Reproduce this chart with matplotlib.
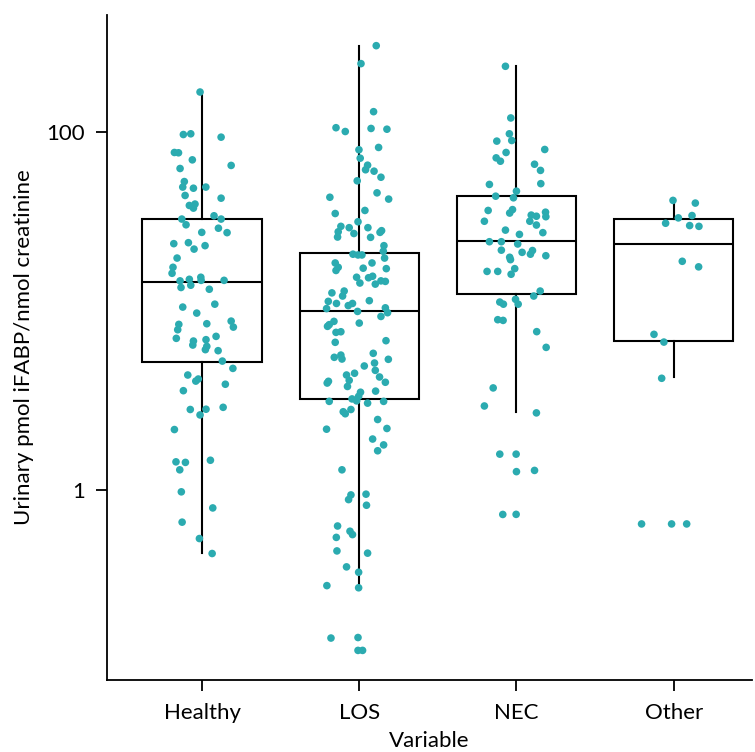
import numpy as np
import matplotlib
matplotlib.use("Agg")
import matplotlib.pyplot as plt

plt.rcParams['font.family'] = ['Lato', 'DejaVu Sans']

categorias = ["Healthy", "LOS", "NEC", "Other"]

# valores (pmol iFABP / nmol creatinina) y desplazamiento horizontal del jitter
healthy_val = [166, 96.2, 97.1, 93.0, 76.4, 76.1, 69.5, 64.7, 62.2, 52.6, 49.0, 48.3, 49.0,
               44.0, 42.5, 38.7, 39.4, 37.4, 32.5, 33.9, 32.5, 30.2, 28.9, 27.4, 27.3, 23.7,
               24.0, 23.1, 22.1, 19.7, 17.5, 16.2, 14.7, 15.0, 15.4, 14.8, 14.8, 13.5, 13.9,
               13.2, 10.5, 10.9, 9.72, 8.48, 8.77, 8.12, 8.41, 7.85, 7.03, 6.79, 6.45, 6.91,
               7.21, 6.34, 6.08, 6.00, 5.25, 4.78, 4.39, 4.06, 4.17, 3.90, 3.59, 2.82, 2.83,
               2.63, 2.90, 2.18, 1.44, 1.43, 1.30, 1.47, 0.98, 0.797, 0.664, 0.538, 0.444]
healthy_jit = [-0.013, -0.119, -0.072, 0.121, -0.176, -0.150, -0.062, 0.185, -0.140, -0.113,
               -0.123, -0.055, 0.024, -0.108, 0.121, -0.081, -0.045, -0.055, -0.129, 0.076,
               0.121, -0.102, 0.104, -0.002, 0.159, -0.180, -0.087, 0.019, -0.051, -0.159,
               -0.185, -0.191, -0.140, -0.081, -0.008, -0.006, 0.140, -0.134, -0.072, 0.046,
               -0.123, 0.081, -0.034, 0.030, 0.185, 0.199, -0.148, -0.155, -0.164, -0.055,
               -0.059, 0.025, 0.089, 0.030, 0.021, 0.102, 0.129, 0.196, -0.091, -0.040,
               -0.024, 0.148, -0.119, -0.075, 0.025, -0.013, 0.134, -0.176, -0.166, -0.106,
               -0.142, 0.053, -0.132, 0.068, -0.127, -0.017, 0.064]

los_val = [301, 239, 129, 105, 100, 104, 103, 79.1, 81.5, 71.0, 64.9, 61.2, 60.1, 55.6, 53.1,
           43.0, 45.5, 42.0, 34.9, 36.3, 31.4, 29.6, 29.1, 27.6, 25.8, 27.0, 29.1, 28.0, 27.4,
           25.7, 23.1, 21.5, 20.7, 20.5, 20.5, 19.7, 18.5, 17.5, 16.8, 18.5, 17.3, 17.2, 15.4,
           14.3, 15.3, 15.6, 14.1, 14.7, 14.6, 12.9, 12.6, 12.1, 11.3, 11.0, 11.0, 10.7, 11.4,
           10.3, 10.4, 9.93, 9.77, 9.31, 8.74, 8.38, 8.20, 8.55, 7.59, 7.65, 6.68, 6.82, 5.51,
           5.67, 5.39, 5.80, 5.37, 5.12, 4.93, 4.66, 4.39, 4.49, 4.28, 4.10, 4.00, 4.05, 3.96,
           3.79, 3.52, 3.57, 3.34, 3.23, 3.15, 3.13, 3.06, 3.13, 2.74, 2.82, 2.67, 2.48, 2.19,
           2.21, 1.93, 1.79, 1.66, 1.30, 0.942, 0.887, 0.951, 0.825, 0.632, 0.591, 0.566,
           0.546, 0.459, 0.446, 0.374, 0.349, 0.294, 0.286, 0.150, 0.151, 0.128, 0.128]
los_jit = [0.108, 0.011, 0.091, -0.148, -0.089, 0.075, 0.176, -0.002, 0.123, 0.006, 0.053,
           0.040, 0.094, 0.138, -0.013, -0.187, 0.113, 0.187, -0.153, 0.036, -0.008, -0.117,
           -0.064, -0.134, -0.138, -0.034, 0.055, 0.142, 0.132, 0.072, 0.157, 0.153, -0.040,
           -0.008, 0.017, 0.161, -0.153, -0.134, -0.148, 0.081, 0.025, 0.172, -0.017, 0.004,
           0.059, 0.085, 0.102, 0.138, 0.166, -0.096, -0.174, -0.106, -0.197, -0.145, -0.043,
           -0.070, 0.064, -0.208, 0.166, -0.011, 0.180, 0.138, -0.161, -0.191, -0.202, 0.0,
           -0.148, -0.117, -0.153, 0.170, -0.159, -0.117, -0.110, 0.089, 0.185, 0.097, 0.032,
           0.102, -0.081, -0.030, 0.129, -0.064, 0.166, -0.196, -0.204, -0.075, 0.008, 0.104,
           -0.004, -0.046, -0.017, -0.191, 0.053, 0.155, -0.102, -0.053, -0.089, 0.117, -0.208,
           0.176, 0.085, 0.155, 0.117, -0.110, -0.053, -0.068, 0.043, 0.046, -0.138, -0.059,
           -0.043, -0.146, -0.142, 0.053, -0.081, -0.004, -0.206, -0.004, -0.180, -0.008,
           -0.008, 0.021]

nec_val = [231, 119, 97.1, 89.1, 88.4, 76.4, 79.4, 71.3, 68.3, 65.7, 60.7, 51.2, 50.7, 46.5,
           42.7, 43.6, 36.3, 36.7, 35.1, 35.5, 33.5, 34.2, 33.7, 31.6, 31.6, 30.1, 28.2, 26.7,
           27.3, 24.3, 24.3, 23.6, 21.8, 21.2, 21.7, 20.7, 20.3, 19.9, 19.3, 17.2, 16.6, 16.6,
           16.0, 12.9, 12.1, 11.6, 10.9, 11.2, 10.9, 8.93, 8.85, 7.66, 6.26, 3.72, 2.95, 2.70,
           1.59, 1.59, 1.27, 1.29, 0.733, 0.734]
nec_jit = [-0.070, -0.036, -0.045, -0.030, -0.125, -0.066, 0.180, -0.129, -0.102, 0.115, 0.153,
           0.155, -0.172, 0.0, -0.019, -0.132, -0.180, -0.025, -0.043, 0.185, 0.187, 0.094,
           0.127, -0.204, 0.085, 0.127, -0.070, 0.019, 0.168, -0.172, -0.096, 0.008, -0.096,
           0.036, 0.102, 0.089, 0.187, -0.043, -0.038, -0.011, -0.187, -0.119, -0.034, 0.151,
           0.110, -0.006, 0.011, -0.106, -0.083, -0.119, -0.085, 0.129, 0.189, -0.148, -0.204,
           0.127, -0.106, -0.002, 0.0, 0.115, -0.087, -0.002]

other_val = [41.3, 39.9, 33.0, 34.0, 30.8, 29.9, 29.6, 18.9, 17.6, 7.40, 6.70, 4.21,
             0.649, 0.649, 0.649]
other_jit = [-0.004, 0.138, 0.030, 0.117, -0.051, 0.102, 0.161, 0.055, 0.159, -0.125, -0.062,
             -0.076, -0.204, -0.013, 0.083]

# estadisticos de las cajas
q1 = [5.17, 3.21, 12.5, 6.79]
mediana = [14.4, 10.0, 24.5, 23.5]
q3 = [32.4, 21.0, 43.5, 32.4]
bigote_inf = [0.448, 0.288, 2.73, 4.28]
bigote_sup = [165, 301, 233, 40.4]

valores = [healthy_val, los_val, nec_val, other_val]
jitters = [healthy_jit, los_jit, nec_jit, other_jit]

fig = plt.figure(figsize=(7.55, 7.52), dpi=100)
ax = fig.add_axes([0.1417, 0.0957, 0.854, 0.885])

stats = []
for i in range(4):
    stats.append({"q1": q1[i], "med": mediana[i], "q3": q3[i],
                  "whislo": bigote_inf[i], "whishi": bigote_sup[i], "fliers": []})

ax.bxp(stats, positions=range(4), widths=0.76, showcaps=False, patch_artist=True,
       boxprops=dict(facecolor="white", edgecolor="black", linewidth=1.5),
       medianprops=dict(color="black", linewidth=1.5),
       whiskerprops=dict(color="black", linewidth=1.5), zorder=1)

color_punto = "#2BABB0"
for i in range(4):
    x = i + np.array(jitters[i])
    ax.scatter(x, valores[i], s=30, color=color_punto, edgecolors="none", zorder=3)

ax.set_yscale("log")
ax.set_ylim(0.0875, 449)
ax.set_xlim(-0.605, 3.497)
ax.set_yticks([1, 100])
ax.set_yticklabels(["1", "100"])
ax.minorticks_off()
ax.set_xticks(range(4))
ax.set_xticklabels(categorias)

for lado in ["top", "right"]:
    ax.spines[lado].set_visible(False)
for lado in ["left", "bottom"]:
    ax.spines[lado].set_linewidth(1.3)

ax.tick_params(labelsize=16, length=8, width=1.3, colors="black")
ax.tick_params(axis="x", pad=8.5)
ax.tick_params(axis="y", pad=8)
ax.set_xlabel("Variable", fontsize=16, labelpad=6)
ax.set_ylabel("Urinary pmol iFABP/nmol creatinine", fontsize=16, labelpad=9)

fig.savefig("out.png", dpi=100)
